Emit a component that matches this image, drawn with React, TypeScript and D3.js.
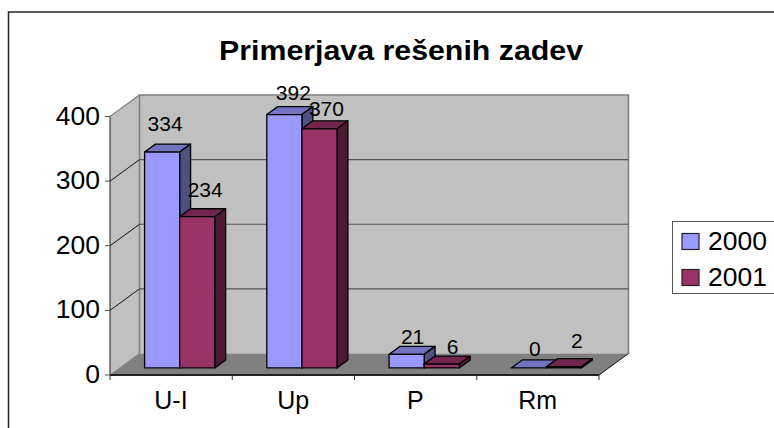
import React from 'react';
import * as d3 from 'd3';

const categories = ['U-I', 'Up', 'P', 'Rm'];
const years = ['2000', '2001'];
const values2000 = [334, 392, 21, 0];
const values2001 = [234, 370, 6, 2];
const yTicks = [0, 100, 200, 300, 400];
const title = 'Primerjava rešenih zadev';

// hand placed data labels in the original, offset from centre/top of each bar
const nudges2000 = [[3, -21], [9, -15], [6, -10], [6, -12]];
const nudges2001 = [[8, -20], [7, -13], [11, -10], [13, -19]];

const colors = [
  { front: '#9999ff', top: '#7373bf', side: '#4f4f80' },
  { front: '#993366', top: '#73264d', side: '#4d1a33' },
];

const W = 774;
const H = 428;
const font = '"Liberation Sans", Arial, sans-serif';

// front edge of the floor
const x0 = 110;
const x1 = 599;
const yBase = 375;
// depth of the whole box
const depthX = 29.5;
const depthY = -21.5;

const xBand = d3.scaleBand<string>().domain(categories).range([x0, x1]).paddingInner(0.426).paddingOuter(0.213).align(0.477);
const xGroup = d3.scaleBand<string>().domain(years).range([0, xBand.bandwidth()]);
const xTicks = d3.scaleLinear().domain([0, categories.length]).range([x0, x1]);
const y = d3.scaleLinear().domain([0, 400]).range([0, -258.5]);
// depth runs 0 (front) -> 1 (back wall)
const zx = d3.scaleLinear().domain([0, 1]).range([0, depthX]);
const zy = d3.scaleLinear().domain([0, 1]).range([0, depthY]);
const zFront = 0.33;
const zBack = 0.7;

const pt = (x: number, v: number, z: number): [number, number] => [x + zx(z), yBase + y(v) + zy(z)];
const poly = (pts: [number, number][]) => d3.line()(pts) + 'Z';

function Bar({ x, w, v, c }: { x: number; w: number; v: number; c: (typeof colors)[0] }) {
  const r = x + w;
  return (
    <g stroke="#000" strokeWidth={1.3} strokeLinejoin="round">
      <path d={poly([pt(x, v, zFront), pt(r, v, zFront), pt(r, v, zBack), pt(x, v, zBack)])} fill={c.top} />
      {v > 0 && (
        <>
          <path d={poly([pt(r, 0, zFront), pt(r, 0, zBack), pt(r, v, zBack), pt(r, v, zFront)])} fill={c.side} />
          <path d={poly([pt(x, 0, zFront), pt(r, 0, zFront), pt(r, v, zFront), pt(x, v, zFront)])} fill={c.front} />
        </>
      )}
    </g>
  );
}

export default function App() {
  const series = [values2000, values2001];
  const nudges = [nudges2000, nudges2001];
  return (
    <svg width={W} height={H} style={{ position: 'absolute', left: 0, top: 0, fontFamily: font }}>
      <rect width={W} height={H} fill="#fff" />
      {/* chart area border, runs off the right and bottom of the picture */}
      <path d={`M8.5,${H}V12H${W}`} fill="none" stroke="#222" strokeWidth={1.5} />

      <text x={219} y={60} fontSize={27} fontWeight="bold" fill="#000" textLength={364} lengthAdjust="spacingAndGlyphs">
        {title}
      </text>

      {/* walls */}
      <path d={poly([pt(x0, 0, 0), pt(x0, 0, 1), pt(x0, 400, 1), pt(x0, 400, 0)])} fill="#c0c0c0" />
      <path d={poly([pt(x0, 0, 1), pt(x1, 0, 1), pt(x1, 400, 1), pt(x0, 400, 1)])} fill="#c0c0c0" />
      <path d={poly([pt(x0, 0, 0), pt(x1, 0, 0), pt(x1, 0, 1), pt(x0, 0, 1)])} fill="#808080" />
      <path d={'M' + [pt(x0, 0, 1), pt(x0, 400, 1), pt(x1, 400, 1), pt(x1, 0, 1)].join('L')} fill="none" stroke="#808080" strokeWidth={1.6} />
      <path d={'M' + [pt(x0, 400, 0), pt(x0, 400, 1)].join('L')} stroke="#808080" strokeWidth={1.2} />
      <path d={'M' + [pt(x0, 0, 0), pt(x0, 0, 1)].join('L')} stroke="#808080" strokeWidth={1} />
      {yTicks.slice(1, -1).map((t) => (
        <g key={t} fill="none" strokeWidth={1}>
          <path d={'M' + [pt(x0, t, 1), pt(x1, t, 1)].join('L')} stroke="#555" strokeWidth={1.2} />
          <path d={'M' + [pt(x0, t, 0), pt(x0, t, 1)].join('L')} stroke="#111" />
        </g>
      ))}
      <path d={'M' + [pt(x1, 0, 0), pt(x1, 0, 1)].join('L')} stroke="#111" fill="none" />

      {/* axes */}
      <path d={`M${x0},${yBase + y(400)}V${yBase}`} stroke="#222" fill="none" />
      <path d={`M${x0},${yBase}H${x1}`} stroke="#222" strokeWidth={2} fill="none" />
      {yTicks.map((t) => (
        <g key={t}>
          <path d={`M${x0 - 5},${yBase + y(t)}H${x0}`} stroke="#555" />
          <text x={100} y={yBase + y(t) + 8} textAnchor="end" fontSize={26.5} fill="#000">
            {t}
          </text>
        </g>
      ))}
      {d3.range(categories.length + 1).map((i) => (
        <path key={i} d={`M${xTicks(i)},${yBase}v5`} stroke="#333" />
      ))}
      {categories.map((c) => (
        <text key={c} x={xBand(c)! + xBand.bandwidth() / 2 + 1} y={409} textAnchor="middle" fontSize={25} fill="#000">
          {c}
        </text>
      ))}

      {/* bars */}
      {categories.map((c, i) => (
        <g key={c}>
          {years.map((yr, s) => (
            <Bar key={yr} x={xBand(c)! + xGroup(yr)!} w={xGroup.bandwidth()} v={series[s][i]} c={colors[s]} />
          ))}
        </g>
      ))}

      {/* data labels */}
      {categories.map((c, i) =>
        years.map((yr, s) => {
          const [px, py] = pt(xBand(c)! + xGroup(yr)! + xGroup.bandwidth() / 2, series[s][i], zFront);
          return (
            <text key={c + yr} x={px + nudges[s][i][0]} y={py + nudges[s][i][1]} textAnchor="middle" fontSize={21} fill="#000">
              {series[s][i]}
            </text>
          );
        })
      )}

      {/* legend */}
      <rect x={672.5} y={221.5} width={120} height={72} fill="#fff" stroke="#555" strokeWidth={1} />
      {years.map((yr, s) => (
        <g key={yr}>
          <rect x={682} y={233.5 + s * 36} width={17} height={16} fill={colors[s].front} stroke="#222" strokeWidth={1.2} />
          <text x={708} y={249.5 + s * 36} fontSize={26.5} fill="#000">
            {yr}
          </text>
        </g>
      ))}
    </svg>
  );
}
